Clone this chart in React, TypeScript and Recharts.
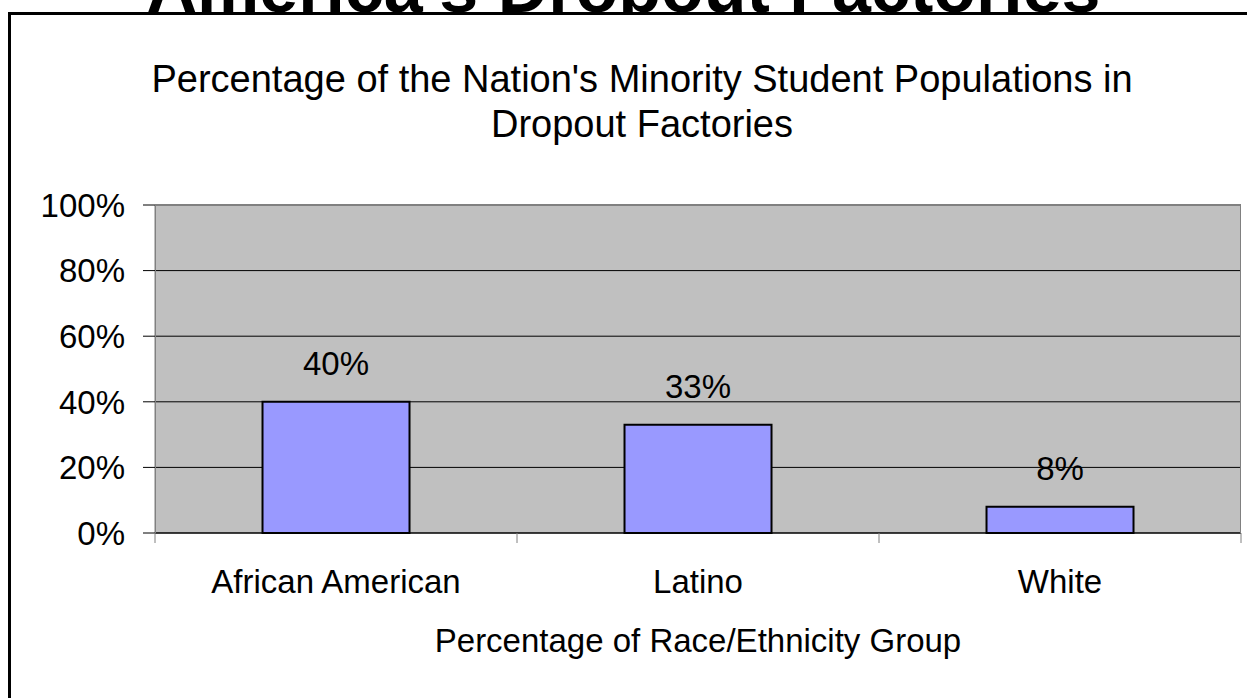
import React from 'react';
import { BarChart, Bar, XAxis, YAxis, CartesianGrid, LabelList, Label } from 'recharts';

const categories = ['African American', 'Latino', 'White'];
const percentages = [40, 33, 8];
const yTicks = [0, 20, 40, 60, 80, 100];
const headerText = "America's Dropout Factories";
const titleLines = ["Percentage of the Nation's Minority Student Populations in", 'Dropout Factories'];
const xAxisTitle = 'Percentage of Race/Ethnicity Group';

const data = categories.map((c, i) => ({ category: c, value: percentages[i] }));

const FONT = '"Liberation Sans", Arial, Helvetica, sans-serif';
const W = 1247;
const H = 698;
const PLOT_LEFT = 155;
const PLOT_TOP = 205;
const PLOT_RIGHT = 1241;
const PLOT_BOTTOM = 533;
const LABEL_SIZE = 33;
const FRAME_TOP = 12;

function CategoryTick(props: any) {
  const { x, y, payload, index, width, visibleTicksCount } = props;
  const count = visibleTicksCount || categories.length;
  const band = typeof width === 'number' && width > 0 ? width / count : (PLOT_RIGHT - PLOT_LEFT) / count;
  const left = x - band / 2;
  const right = x + band / 2;
  return (
    <g>
      <line x1={left} x2={left} y1={y} y2={y + 10} stroke="#808080" strokeWidth={1} />
      {index === count - 1 && (
        <line x1={right} x2={right} y1={y} y2={y + 10} stroke="#808080" strokeWidth={1} />
      )}
      <text x={x} y={y + 60} textAnchor="middle" fontSize={LABEL_SIZE} fill="#000" fontFamily={FONT}>
        {payload.value}
      </text>
    </g>
  );
}

function AxisTitle(props: any) {
  const vb = props.viewBox || {};
  return (
    <text
      x={vb.x + vb.width / 2}
      y={vb.y + 119}
      textAnchor="middle"
      fontSize={LABEL_SIZE}
      fill="#000"
      fontFamily={FONT}
    >
      {xAxisTitle}
    </text>
  );
}

export default function App() {
  return (
    <div
      style={{
        position: 'absolute',
        left: 0,
        top: 0,
        width: W,
        height: H,
        overflow: 'hidden',
        background: '#fff',
        fontFamily: FONT,
      }}
    >
      <svg width={W} height={30} style={{ position: 'absolute', left: 0, top: 0 }}>
        <text x={W / 2} y={FRAME_TOP} textAnchor="middle" fontSize={70} fontWeight="bold" fill="#000" fontFamily={FONT}>
          {headerText}
        </text>
      </svg>
      <div
        style={{
          position: 'absolute',
          left: 8,
          top: FRAME_TOP,
          width: W + 40,
          height: H + 40,
          borderLeft: '3px solid #000',
          borderTop: '3px solid #000',
          background: '#fff',
        }}
      />
      <svg width={W} height={160} style={{ position: 'absolute', left: 0, top: 0 }}>
        {titleLines.map((t, i) => (
          <text key={i} x={642} y={92 + i * 45} textAnchor="middle" fontSize={38} fill="#000" fontFamily={FONT}>
            {t}
          </text>
        ))}
      </svg>
      <div style={{ position: 'absolute', left: 0, top: 0 }}>
        <BarChart
          width={W}
          height={H}
          data={data}
          margin={{ top: PLOT_TOP, right: W - PLOT_RIGHT, bottom: 0, left: 0 }}
          barCategoryGap="29.7%"
        >
          <CartesianGrid vertical={false} fill="#c0c0c0" fillOpacity={1} stroke="#000" strokeWidth={1} />
          <XAxis
            dataKey="category"
            height={H - PLOT_BOTTOM}
            tickLine={false}
            tickSize={0}
            tickMargin={0}
            axisLine={{ stroke: '#000', strokeWidth: 1 }}
            tick={<CategoryTick />}
            interval={0}
          >
            <Label content={<AxisTitle />} />
          </XAxis>
          <YAxis
            width={PLOT_LEFT}
            domain={[0, 100]}
            ticks={yTicks}
            interval={0}
            tickFormatter={(v: number) => `${v}%`}
            tick={{ fontSize: LABEL_SIZE, fill: '#000', fontFamily: FONT }}
            tickSize={12}
            tickMargin={18}
            tickLine={{ stroke: '#000' }}
            axisLine={{ stroke: '#808080' }}
          />
          <Bar dataKey="value" fill="#9999ff" stroke="#000" strokeWidth={2} isAnimationActive={false}>
            <LabelList
              dataKey="value"
              position="top"
              offset={27}
              formatter={(v: any) => `${v}%`}
              fontSize={LABEL_SIZE}
              fill="#000"
              fontFamily={FONT}
            />
          </Bar>
        </BarChart>
      </div>
      <div
        style={{
          position: 'absolute',
          left: PLOT_LEFT,
          top: PLOT_TOP,
          width: PLOT_RIGHT - PLOT_LEFT,
          height: PLOT_BOTTOM - PLOT_TOP,
          borderLeft: '1px solid #808080',
          borderTop: '1px solid #808080',
          borderRight: '1px solid #808080',
          boxSizing: 'border-box',
          pointerEvents: 'none',
        }}
      />
    </div>
  );
}
